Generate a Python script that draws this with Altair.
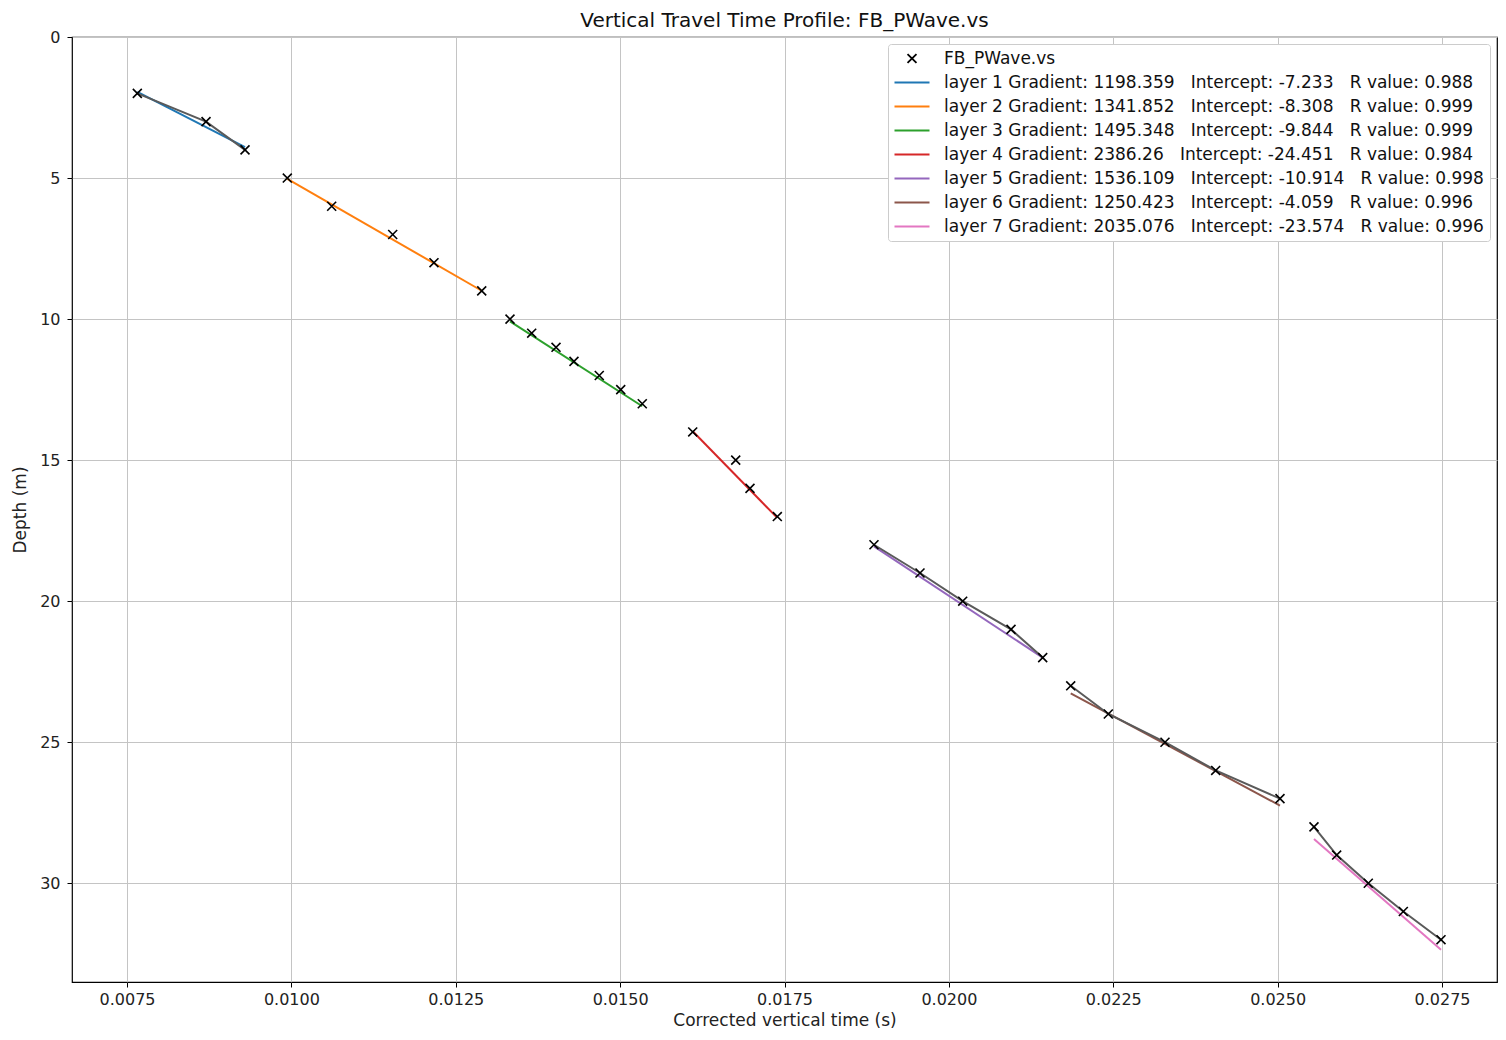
import altair as alt
import pandas as pd

# ---- data ----
series_name = "FB_PWave.vs"
depths = [2, 3, 4,
          5, 6, 7, 8, 9,
          10, 10.5, 11, 11.5, 12, 12.5, 13,
          14, 15, 16, 17,
          18, 19, 20, 21, 22,
          23, 24, 25, 26, 27,
          28, 29, 30, 31, 32]
times = [0.007657, 0.008702, 0.009295,
         0.009938, 0.010613, 0.011541, 0.012169, 0.012895,
         0.013325, 0.013655, 0.014025, 0.014298, 0.014683, 0.015009, 0.015337,
         0.016104, 0.016758, 0.016975, 0.017391,
         0.018861, 0.019561, 0.020210, 0.020945, 0.021427,
         0.021853, 0.022425, 0.023287, 0.024058, 0.025036,
         0.025553, 0.025898, 0.026379, 0.026912, 0.027485]
point_layers = [1, 1, 1,
                2, 2, 2, 2, 2,
                3, 3, 3, 3, 3, 3, 3,
                4, 4, 4, 4,
                5, 5, 5, 5, 5,
                6, 6, 6, 6, 6,
                7, 7, 7, 7, 7]
gradients = [1198.359, 1341.852, 1495.348, 2386.26, 1536.109, 1250.423, 2035.076]
intercepts = [-7.233, -8.308, -9.844, -24.451, -10.914, -4.059, -23.574]
r_values = [0.988, 0.999, 0.999, 0.984, 0.998, 0.996, 0.996]
trace_layers = [1, 5, 6, 7]
layer_colors = ["#1f77b4", "#ff7f0e", "#2ca02c", "#d62728", "#9467bd", "#8c564b", "#e377c2"]
x_ticks = [0.0075, 0.0100, 0.0125, 0.0150, 0.0175, 0.0200, 0.0225, 0.0250, 0.0275]
y_ticks = [0, 5, 10, 15, 20, 25, 30]
x_domain = [0.0066635, 0.0283365]
y_domain = [0, 33.5]

sp = "\u00a0" * 3
labels = [f"layer {i + 1} Gradient: {g}{sp}Intercept: {c}{sp}R value: {r}"
          for i, (g, c, r) in enumerate(zip(gradients, intercepts, r_values))]
legend_domain = [series_name] + labels

points_df = pd.DataFrame({
    "t": times,
    "depth": depths,
    "layer": point_layers,
    "series": series_name,
})

fit_rows = []
for i, (g, c) in enumerate(zip(gradients, intercepts)):
    lt = [t for t, l in zip(times, point_layers) if l == i + 1]
    for t in (min(lt), max(lt)):
        fit_rows.append({"t": t, "depth": g * t + c, "series": labels[i]})
fit_df = pd.DataFrame(fit_rows)

trace_df = points_df[points_df["layer"].isin(trace_layers)]

x_enc = alt.X("t:Q",
              scale=alt.Scale(domain=x_domain, nice=False, zero=False),
              axis=alt.Axis(values=x_ticks, format=".4f", title="Corrected vertical time (s)"))
y_enc = alt.Y("depth:Q",
              scale=alt.Scale(domain=y_domain, reverse=True, nice=False, zero=False),
              axis=alt.Axis(values=y_ticks, title="Depth (m)"))

x_path = "M-0.64,-0.64L0.64,0.64M-0.64,0.64L0.64,-0.64"
line_path = "M-2.5,0L2.5,0"

color_scale = alt.Scale(domain=legend_domain, range=["black"] + layer_colors)
shape_scale = alt.Scale(domain=legend_domain, range=[x_path] + [line_path] * 7)

leg = alt.Legend(title=None, orient="top-right", offset=7,
                 symbolSize=196, symbolStrokeWidth=1.8, symbolType=line_path,
                 labelFontSize=17, labelLimit=1200, labelColor="#111111",
                 labelOffset=23.5, symbolOffset=9.5,
                 rowPadding=6, padding=6,
                 fillColor="white", strokeColor="#cccccc", cornerRadius=3)

fit = alt.Chart(fit_df).mark_line(strokeWidth=2).encode(
    x=x_enc, y=y_enc,
    color=alt.Color("series:N", scale=color_scale, legend=leg),
    detail="series:N",
)

trace = alt.Chart(trace_df).mark_line(color="#5a5a5a", strokeWidth=2).encode(
    x=x_enc, y=y_enc, detail="layer:N"
)

points = alt.Chart(points_df).mark_point(filled=False, size=196, strokeWidth=1.6, opacity=1).encode(
    x=x_enc, y=y_enc,
    color=alt.Color("series:N", scale=color_scale, legend=leg),
    shape=alt.Shape("series:N", scale=shape_scale, legend=leg),
)

chart = alt.layer(fit, trace, points).properties(
    width=1425, height=945,
    autosize=alt.AutoSizeParams(type="none"),
    padding={"left": 64, "top": 29, "right": 1, "bottom": 46},
    title=alt.TitleParams("Vertical Travel Time Profile: FB_PWave.vs", fontSize=20,
                          fontWeight="normal", anchor="middle", frame="group", offset=-2,
                          color="#111111"),
).configure(font="DejaVu Sans").configure_view(
    stroke="black", strokeWidth=1.2
).configure_axis(
    labelFontSize=16, titleFontSize=17, titleFontWeight="normal",
    labelColor="#222222", titleColor="#222222",
    gridColor="#c4c4c4", gridWidth=1,
    tickColor="black", tickSize=5,
    domain=False,
).configure_axisY(titlePadding=10, labelPadding=7).configure_axisX(titlePadding=5, labelPadding=4)

chart.save("out.html", embed_options={"renderer": "svg", "actions": False})
